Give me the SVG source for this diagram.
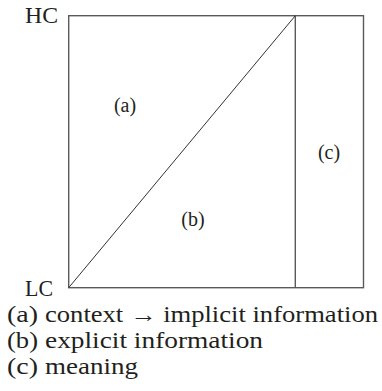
<svg xmlns="http://www.w3.org/2000/svg" width="382" height="391" viewBox="0 0 382 391">
<style>
text{font-family:"Liberation Serif","Times New Roman",serif;fill:#231f20}
.ax{font-size:24px}
.lb{font-size:20px}
.lg{font-size:23px}
.frame{fill:none;stroke:#5a5a5a;stroke-width:1.4}
.diag{stroke:#333;stroke-width:1}
</style>
<rect width="382" height="391" fill="#fff"/>
<g id="axis-labels">
<text class="ax" x="25" y="23" textLength="33" lengthAdjust="spacingAndGlyphs">HC</text>
<text class="ax" x="25" y="296" textLength="28" lengthAdjust="spacingAndGlyphs">LC</text>
</g>
<g id="frame">
<rect class="frame" x="68.7" y="15.7" width="294.8" height="272"/>
</g>
<g id="connectors">
<line class="frame" x1="295.3" y1="15.7" x2="295.3" y2="287.7"/>
<line class="diag" x1="68.7" y1="287.7" x2="295.3" y2="15.7"/>
</g>
<g id="region-a"><text class="lb" x="125" y="112" text-anchor="middle">(a)</text></g>
<g id="region-b"><text class="lb" x="193" y="226" text-anchor="middle">(b)</text></g>
<g id="region-c"><text class="lb" x="329" y="159" text-anchor="middle">(c)</text></g>
<g id="legend">
<text class="lg" x="7" y="322" textLength="31" lengthAdjust="spacingAndGlyphs">(a)</text>
<text class="lg" x="45" y="322" textLength="333" lengthAdjust="spacingAndGlyphs">context → implicit information</text>
<text class="lg" x="7" y="348" textLength="31" lengthAdjust="spacingAndGlyphs">(b)</text>
<text class="lg" x="45" y="348" textLength="218" lengthAdjust="spacingAndGlyphs">explicit information</text>
<text class="lg" x="7" y="374" textLength="31" lengthAdjust="spacingAndGlyphs">(c)</text>
<text class="lg" x="45" y="374" textLength="93" lengthAdjust="spacingAndGlyphs">meaning</text>
</g>
</svg>
